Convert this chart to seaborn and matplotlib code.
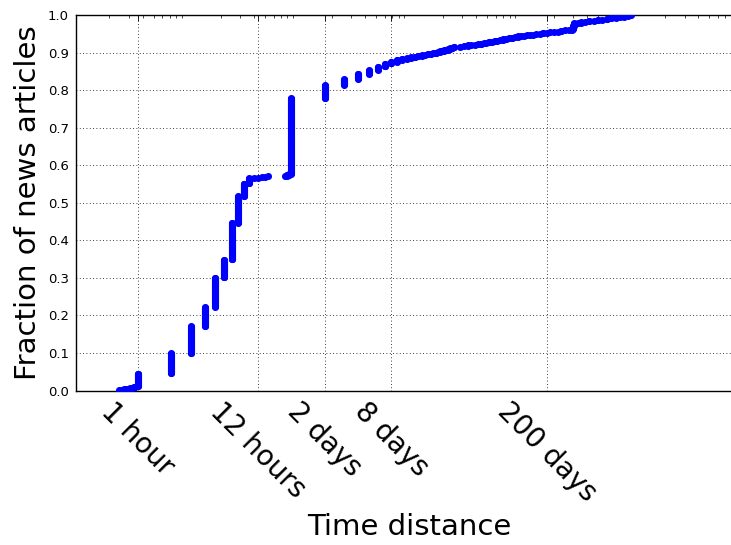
import numpy as np
import pandas as pd
import matplotlib
matplotlib.use("Agg")
import matplotlib.pyplot as plt
import seaborn as sns
from matplotlib.ticker import LogLocator, NullFormatter, FixedLocator

# ---------------- data (time distance of each news article, grouped) -------------
minute_values = [41, 43, 45, 47, 49, 51, 53, 55, 57, 59]
minute_counts = [1, 1, 1, 1, 1, 1, 1, 2, 1, 1]

hour_values = [1, 2, 3, 4, 5, 6, 7, 8, 9, 10, 11, 12, 13, 14, 15, 21, 22, 23]
hour_counts = [34, 54, 72, 51, 78, 48, 98, 71, 34, 14, 1, 1, 1, 1, 1, 1, 3, 2]

day_values = [1, 2, 3, 4, 5, 6, 7, 8, 9,
              10, 11, 12, 13, 14, 15, 16, 17, 18, 19, 20, 21, 22, 23, 24, 25,
              26, 27, 28, 29, 33, 36, 39, 42, 45, 48, 51, 54, 57,
              60, 64, 68, 72, 76, 80, 86, 92, 98, 104, 110, 116,
              124, 132, 140, 150, 160, 172, 186, 200,
              215, 232, 250, 270, 292, 315, 335, 345, 350,
              355, 380, 410, 440, 480, 530, 580, 630,
              690, 760, 840, 920, 1000, 1080, 1150]
day_counts = [202, 35, 16, 14, 10, 9, 8, 5, 5,
              3, 2, 2, 2, 2, 2, 1, 2, 1, 1, 2, 1, 2, 1, 2, 1,
              2, 2, 2, 2, 1, 1, 2, 1, 1, 1, 2, 1, 1,
              2, 1, 2, 1, 1, 2, 2, 1, 2, 1, 2, 1,
              1, 1, 1, 1, 1, 1, 2, 1,
              1, 1, 1, 2, 1, 1, 3, 8, 5,
              2, 1, 2, 1, 2, 1, 2, 1,
              2, 2, 2, 1, 2, 2, 1]

tick_seconds = [3600, 43200, 172800, 691200, 17280000]
tick_labels = ["1 hour", "12 hours", "2 days", "8 days", "200 days"]
y_ticks = [0.0, 0.1, 0.2, 0.3, 0.4, 0.5, 0.6, 0.7, 0.8, 0.9, 1.0]

# ---------------- empirical CDF --------------------------------------------------
seconds = np.concatenate([
    np.repeat(np.array(minute_values) * 60.0, minute_counts),
    np.repeat(np.array(hour_values) * 3600.0, hour_counts),
    np.repeat(np.array(day_values) * 86400.0, day_counts),
])
seconds = np.sort(seconds)
n = len(seconds)
df = pd.DataFrame({"seconds": seconds, "fraction": np.arange(1, n + 1) / n})

# ---------------- plot ------------------------------------------------------------
sns.set_style("white")
plt.rcParams["font.family"] = ["DejaVu Sans"]
plt.rcParams["text.color"] = "black"
plt.rcParams["axes.labelcolor"] = "black"
plt.rcParams["xtick.color"] = "black"
plt.rcParams["ytick.color"] = "black"

fig = plt.figure(figsize=(7.31, 5.45), dpi=100)
ax = fig.add_axes([76 / 731, 154.5 / 545, 666.6 / 731, 375.5 / 545])

sns.scatterplot(data=df, x="seconds", y="fraction", ax=ax, color="#0000ff",
                s=26, linewidth=0, marker="o", zorder=3, legend=False)

ax.set_xscale("log")
ax.set_xlim(1e3, 1e9)
ax.set_ylim(0, 1)

ax.xaxis.set_major_locator(FixedLocator(tick_seconds))
ax.set_xticklabels(tick_labels, rotation=-45, fontsize=20)
ax.xaxis.set_minor_locator(LogLocator(base=10, subs=np.arange(2, 10), numticks=100))
ax.xaxis.set_minor_formatter(NullFormatter())

ax.set_yticks(y_ticks)
ax.set_yticklabels([f"{v:.1f}" for v in y_ticks], fontsize=9.5)

ax.tick_params(which="both", direction="in", top=True, right=True, colors="k")
ax.tick_params(which="major", length=4, width=0.6, pad=5)
ax.tick_params(which="minor", length=2, width=0.5)

ax.grid(True, which="major", color="k", linestyle=(0, (1, 3)), linewidth=0.6)
ax.set_axisbelow(True)

for sp in ax.spines.values():
    sp.set_color("k")
    sp.set_linewidth(1.0)

ax.set_xlabel("Time distance", fontsize=21, color="black")
ax.set_ylabel("Fraction of news articles", fontsize=21, color="black")

fig.savefig("out.png", dpi=100, facecolor="white")
